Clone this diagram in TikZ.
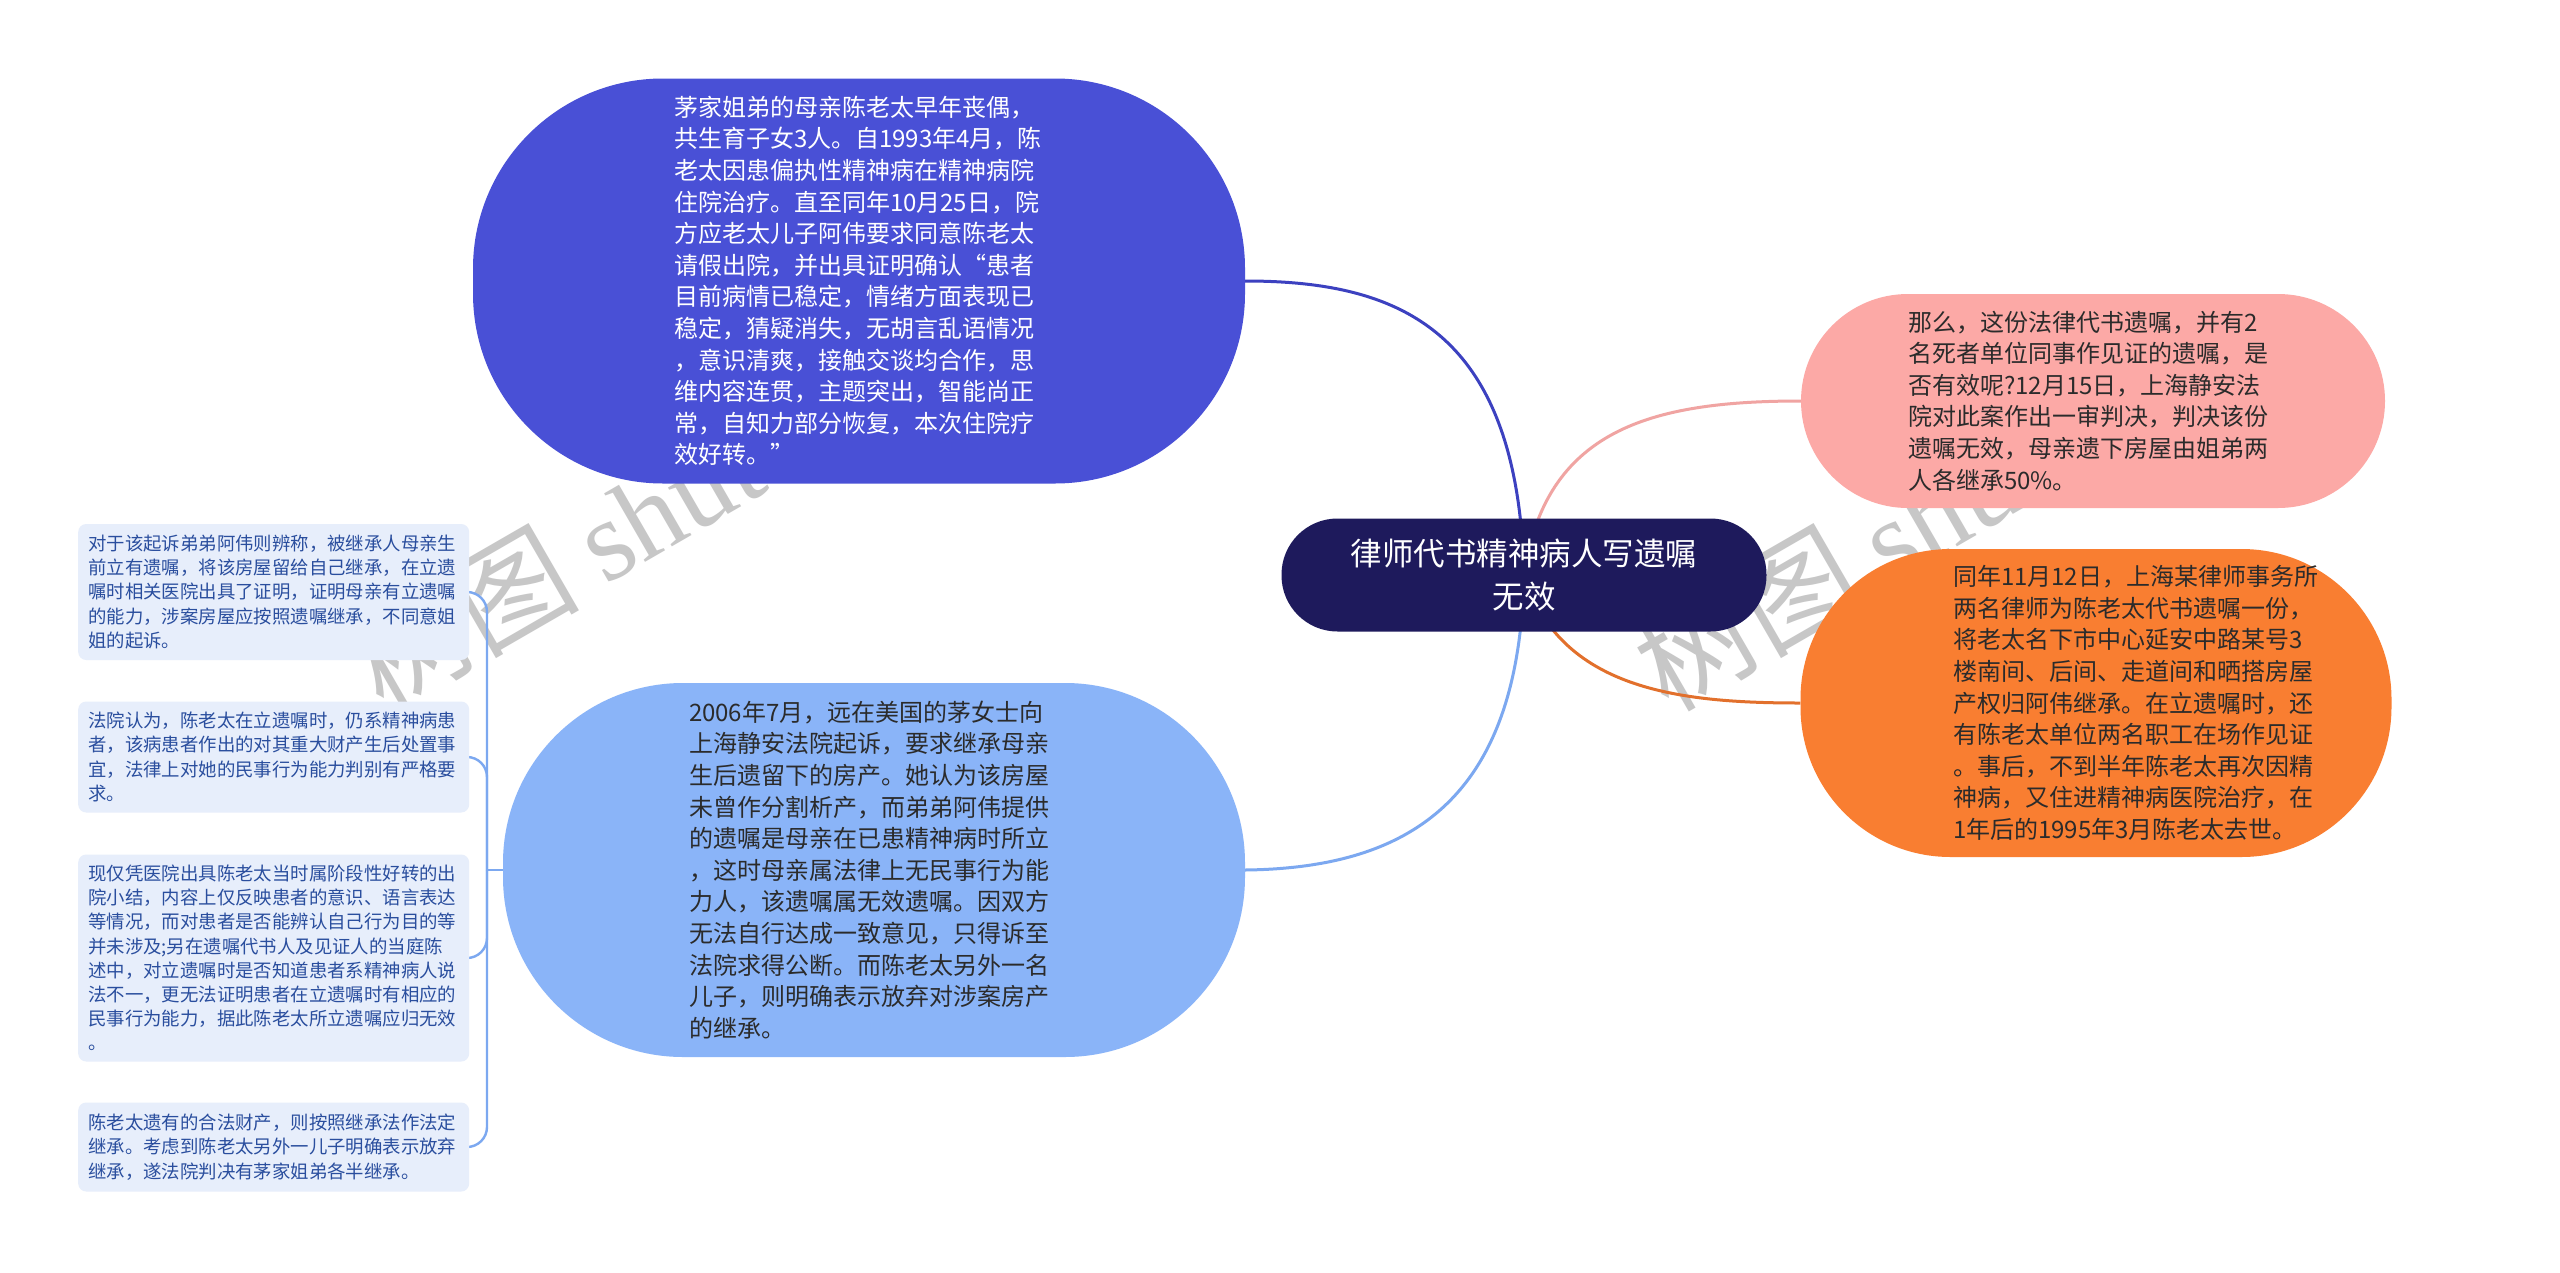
\documentclass[tikz,border=0pt]{standalone}
\usepackage{fontspec}
\setmainfont{Noto Sans CJK SC}
\newfontfamily\wmlatin{Liberation Serif}
\definecolor{cnavy}{HTML}{1E1A5C}
\definecolor{ctop}{HTML}{4950D6}
\definecolor{cpink}{HTML}{FCA9A6}
\definecolor{corange}{HTML}{F97E31}
\definecolor{clb}{HTML}{8AB4F8}
\definecolor{ctoplink}{HTML}{3C41C0}
\definecolor{cpinklink}{HTML}{F0A4A2}
\definecolor{corangelink}{HTML}{E2702C}
\definecolor{clblink}{HTML}{7CA8F0}
\definecolor{csmallfill}{HTML}{E7EEFB}
\definecolor{csmalltext}{HTML}{2A4E9E}
\definecolor{cdarktext}{HTML}{2B2B2B}
\pgfdeclarelayer{links}
\pgfsetlayers{links,main}
\begin{document}
\begin{tikzpicture}[x=1pt,y=-1pt,
  blob/.style={inner sep=0pt, draw=none},
  bodytext/.style={text width=370pt, align=left, inner sep=0pt,
    font=\fontsize{24pt}{31.6pt}\selectfont},
  smallbox/.style={fill=csmallfill, rounded corners=8pt, text width=371pt,
    inner xsep=10pt, inner ysep=0pt, align=left, anchor=west,
    font=\fontsize{18.4pt}{24.2pt}\selectfont, text=csmalltext},
  link/.style={line width=3pt},
  sublink/.style={line width=2.4pt, draw=clblink, rounded corners=20pt},
  wm/.style={text=black!22, inner sep=0pt,
    font=\fontsize{115pt}{115pt}\selectfont}]
\begin{pgfonlayer}{links}
  \fill[white] (0,0) rectangle (2560,1272);
  % watermarks (behind the topics)
  \node[wm, rotate=30] (wm1) at (640,515) {树图 {\wmlatin shutu.cn}};
  \node[wm, rotate=30] (wm2) at (1925,515) {树图 {\wmlatin shutu.cn}};
\end{pgfonlayer}
\useasboundingbox (0,0) rectangle (2560,1272);

% central
\node[blob, fill=cnavy, minimum width=485pt, minimum height=113pt,
  rounded corners=56pt, text=white, align=center,
  font=\fontsize{31.5pt}{43pt}\selectfont] (c) at (1524,575)
  {律师代书精神病人写遗嘱\\无效};

% top
\node[blob, fill=ctop, minimum width=772pt, minimum height=405pt,
  rounded corners=190pt] (top) at (859,281) {};
\node[bodytext, text=white] (toptext) at (top.center) {茅家姐弟的母亲陈老太早年丧偶，\\
共生育子女3人。自1993年4月，陈\\
老太因患偏执性精神病在精神病院\\
住院治疗。直至同年10月25日，院\\
方应老太儿子阿伟要求同意陈老太\\
请假出院，并出具证明确认“患者\\
目前病情已稳定，情绪方面表现已\\
稳定，猜疑消失，无胡言乱语情况\\
，意识清爽，接触交谈均合作，思\\
维内容连贯，主题突出，智能尚正\\
常，自知力部分恢复，本次住院疗\\
效好转。”};

% light blue
\node[blob, fill=clb, minimum width=742pt, minimum height=374pt,
  rounded corners=180pt] (lb) at (874,870) {};
\node[bodytext, text=cdarktext] (lbtext) at (lb.center) {2006年7月，远在美国的茅女士向\\
上海静安法院起诉，要求继承母亲\\
生后遗留下的房产。她认为该房屋\\
未曾作分割析产，而弟弟阿伟提供\\
的遗嘱是母亲在已患精神病时所立\\
，这时母亲属法律上无民事行为能\\
力人，该遗嘱属无效遗嘱。因双方\\
无法自行达成一致意见，只得诉至\\
法院求得公断。而陈老太另外一名\\
儿子，则明确表示放弃对涉案房产\\
的继承。};

% pink
\node[blob, fill=cpink, minimum width=584pt, minimum height=214pt,
  rounded corners=107pt] (pink) at (2093,401) {};
\node[bodytext, text=cdarktext] (pinktext) at (pink.center) {那么，这份法律代书遗嘱，并有2\\
名死者单位同事作见证的遗嘱，是\\
否有效呢?12月15日，上海静安法\\
院对此案作出一审判决，判决该份\\
遗嘱无效，母亲遗下房屋由姐弟两\\
人各继承50\%。};

% orange
\node[blob, fill=corange, minimum width=591pt, minimum height=308pt,
  rounded corners=150pt] (orange) at (2096,703) {};
\node[bodytext, text=cdarktext] (orangetext) at (2138,703) {同年11月12日，上海某律师事务所\\
两名律师为陈老太代书遗嘱一份，\\
将老太名下市中心延安中路某号3\\
楼南间、后间、走道间和晒搭房屋\\
产权归阿伟继承。在立遗嘱时，还\\
有陈老太单位两名职工在场作见证\\
。事后，不到半年陈老太再次因精\\
神病，又住进精神病医院治疗，在\\
1年后的1995年3月陈老太去世。};

% small boxes
\node[smallbox, minimum height=136pt] (L1) at (78,592) {对于该起诉弟弟阿伟则辨称，被继承人母亲生\\
前立有遗嘱，将该房屋留给自己继承，在立遗\\
嘱时相关医院出具了证明，证明母亲有立遗嘱\\
的能力，涉案房屋应按照遗嘱继承，不同意姐\\
姐的起诉。};
\node[smallbox, minimum height=111pt] (L2) at (78,757) {法院认为，陈老太在立遗嘱时，仍系精神病患\\
者，该病患者作出的对其重大财产生后处置事\\
宜，法律上对她的民事行为能力判别有严格要\\
求。};
\node[smallbox, minimum height=207pt] (L3) at (78,958) {现仅凭医院出具陈老太当时属阶段性好转的出\\
院小结，内容上仅反映患者的意识、语言表达\\
等情况，而对患者是否能辨认自己行为目的等\\
并未涉及;另在遗嘱代书人及见证人的当庭陈\\
述中，对立遗嘱时是否知道患者系精神病人说\\
法不一，更无法证明患者在立遗嘱时有相应的\\
民事行为能力，据此陈老太所立遗嘱应归无效\\
。};
\node[smallbox, minimum height=89pt] (L4) at (78,1147) {陈老太遗有的合法财产，则按照继承法作法定\\
继承。考虑到陈老太另外一儿子明确表示放弃\\
继承，遂法院判决有茅家姐弟各半继承。};

\coordinate (J) at (487,870);

\begin{pgfonlayer}{links}
  \draw[link, ctoplink] (c.center) .. controls (1518,330) and (1400,281) .. (top.east);
  \draw[link, cpinklink] (c.center) .. controls (1545,430) and (1650,401) .. (pink.west);
  \draw[link, corangelink] (c.center) .. controls (1560,690) and (1680,703) .. (orange.west);
  \draw[link, clblink] (c.center) .. controls (1519,790) and (1420,868) .. (lb.east);
  \draw[sublink] (lb.west) -- (J);
  \draw[sublink] (J) -- (487,592) -- (L1.east);
  \draw[sublink] (J) -- (487,757) -- (L2.east);
  \draw[sublink] (J) -- (487,958) -- (L3.east);
  \draw[sublink] (J) -- (487,1147) -- (L4.east);
\end{pgfonlayer}
\end{tikzpicture}
\end{document}
